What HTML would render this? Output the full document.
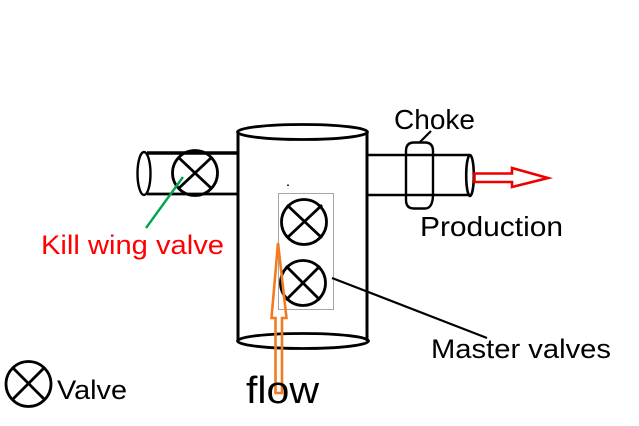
<!DOCTYPE html>
<html>
<head>
<meta charset="utf-8">
<style>
html,body{margin:0;padding:0;background:#fff;width:639px;height:426px;overflow:hidden}
svg{display:block}
text{font-family:"Liberation Sans",sans-serif}
</style>
</head>
<body>
<svg width="639" height="426" viewBox="0 0 639 426" xmlns="http://www.w3.org/2000/svg">
<rect width="639" height="426" fill="#fff"/>
<g fill="none" stroke="#000" stroke-width="3">
<!-- main cylinder -->
<path d="M238 132V341" />
<path d="M367 132V341" />
<ellipse cx="302.500" cy="132" rx="65" ry="7.500" fill="#fff" stroke-width="2.800"/>
<ellipse cx="303" cy="341" rx="65.500" ry="7.500" stroke-width="2.800"/>
<!-- left pipe -->
<path d="M147 153H238" stroke-width="3.400"/>
<path d="M147 194H238" stroke-width="2.800"/>
<ellipse cx="144" cy="173.500" rx="6.500" ry="21.500" stroke-width="2.400"/>
<!-- right pipe -->
<path d="M367 155H470" stroke-width="2.400"/>
<path d="M367 195H470" stroke-width="2.400"/>
<ellipse cx="470" cy="175.500" rx="3.800" ry="20.500" stroke-width="2.600"/>
<path d="M414 142.500H425Q433 142.500 433 151V192Q433.500 208.500 425 208.500H414Q406 208.500 406 200V151Q406 142.500 414 142.500Z" stroke-width="2.400"/>
<path d="M419 143L431 131" stroke-width="2.200"/>
</g>
<!-- gray box -->
<rect x="278.500" y="193.500" width="55" height="116" fill="none" stroke="#a6a6a6" stroke-width="1"/>
<rect x="287" y="184.500" width="2" height="1.500" fill="#333"/>
<!-- valves -->
<g fill="none" stroke="#000" stroke-width="2.800">
<circle cx="195" cy="173" r="22.500"/>
<path d="M178 157L212 189M212 157L178 189"/>
<circle cx="304" cy="222" r="22.500"/>
<path d="M287 205L322 238M322 205L287 238"/>
<circle cx="303" cy="283" r="22.500"/>
<path d="M286 266L320 300M320 266L286 300"/>
<circle cx="28.500" cy="384" r="22.500"/>
<path d="M12 367L45 400M45 367L12 400"/>
</g>
<path d="M332 278L487 338" fill="none" stroke="#000" stroke-width="2.200" />
<!-- green line -->
<path d="M183 177L146 228" fill="none" stroke="#00a650" stroke-width="2.400"/>
<!-- red arrow -->
<polygon points="474.500,173.500 512,173.500 512,168 548,178 512,187 512,182 474.500,182" fill="#fff" stroke="#ee0000" stroke-width="2.600"/>
<!-- orange arrow -->
<polygon points="275.500,393 275.500,318 271.500,318 278,243 286.500,318 282,318 282,393" fill="none" stroke="#f47a20" stroke-width="2.600"/>
<!-- labels -->
<text x="394" y="129" font-size="28" fill="#000" textLength="81" lengthAdjust="spacingAndGlyphs">Choke</text>
<text x="420" y="236" font-size="28" fill="#000" textLength="143" lengthAdjust="spacingAndGlyphs">Production</text>
<text x="41" y="254" font-size="27" fill="#ff0000" textLength="183" lengthAdjust="spacingAndGlyphs">Kill wing valve</text>
<text x="431" y="358" font-size="27" fill="#000" textLength="180" lengthAdjust="spacingAndGlyphs">Master valves</text>
<text x="246" y="403" font-size="38" fill="#000" textLength="73" lengthAdjust="spacingAndGlyphs">flow</text>
<text x="57" y="399" font-size="27" fill="#000" textLength="70" lengthAdjust="spacingAndGlyphs">Valve</text>
</svg>
</body>
</html>
